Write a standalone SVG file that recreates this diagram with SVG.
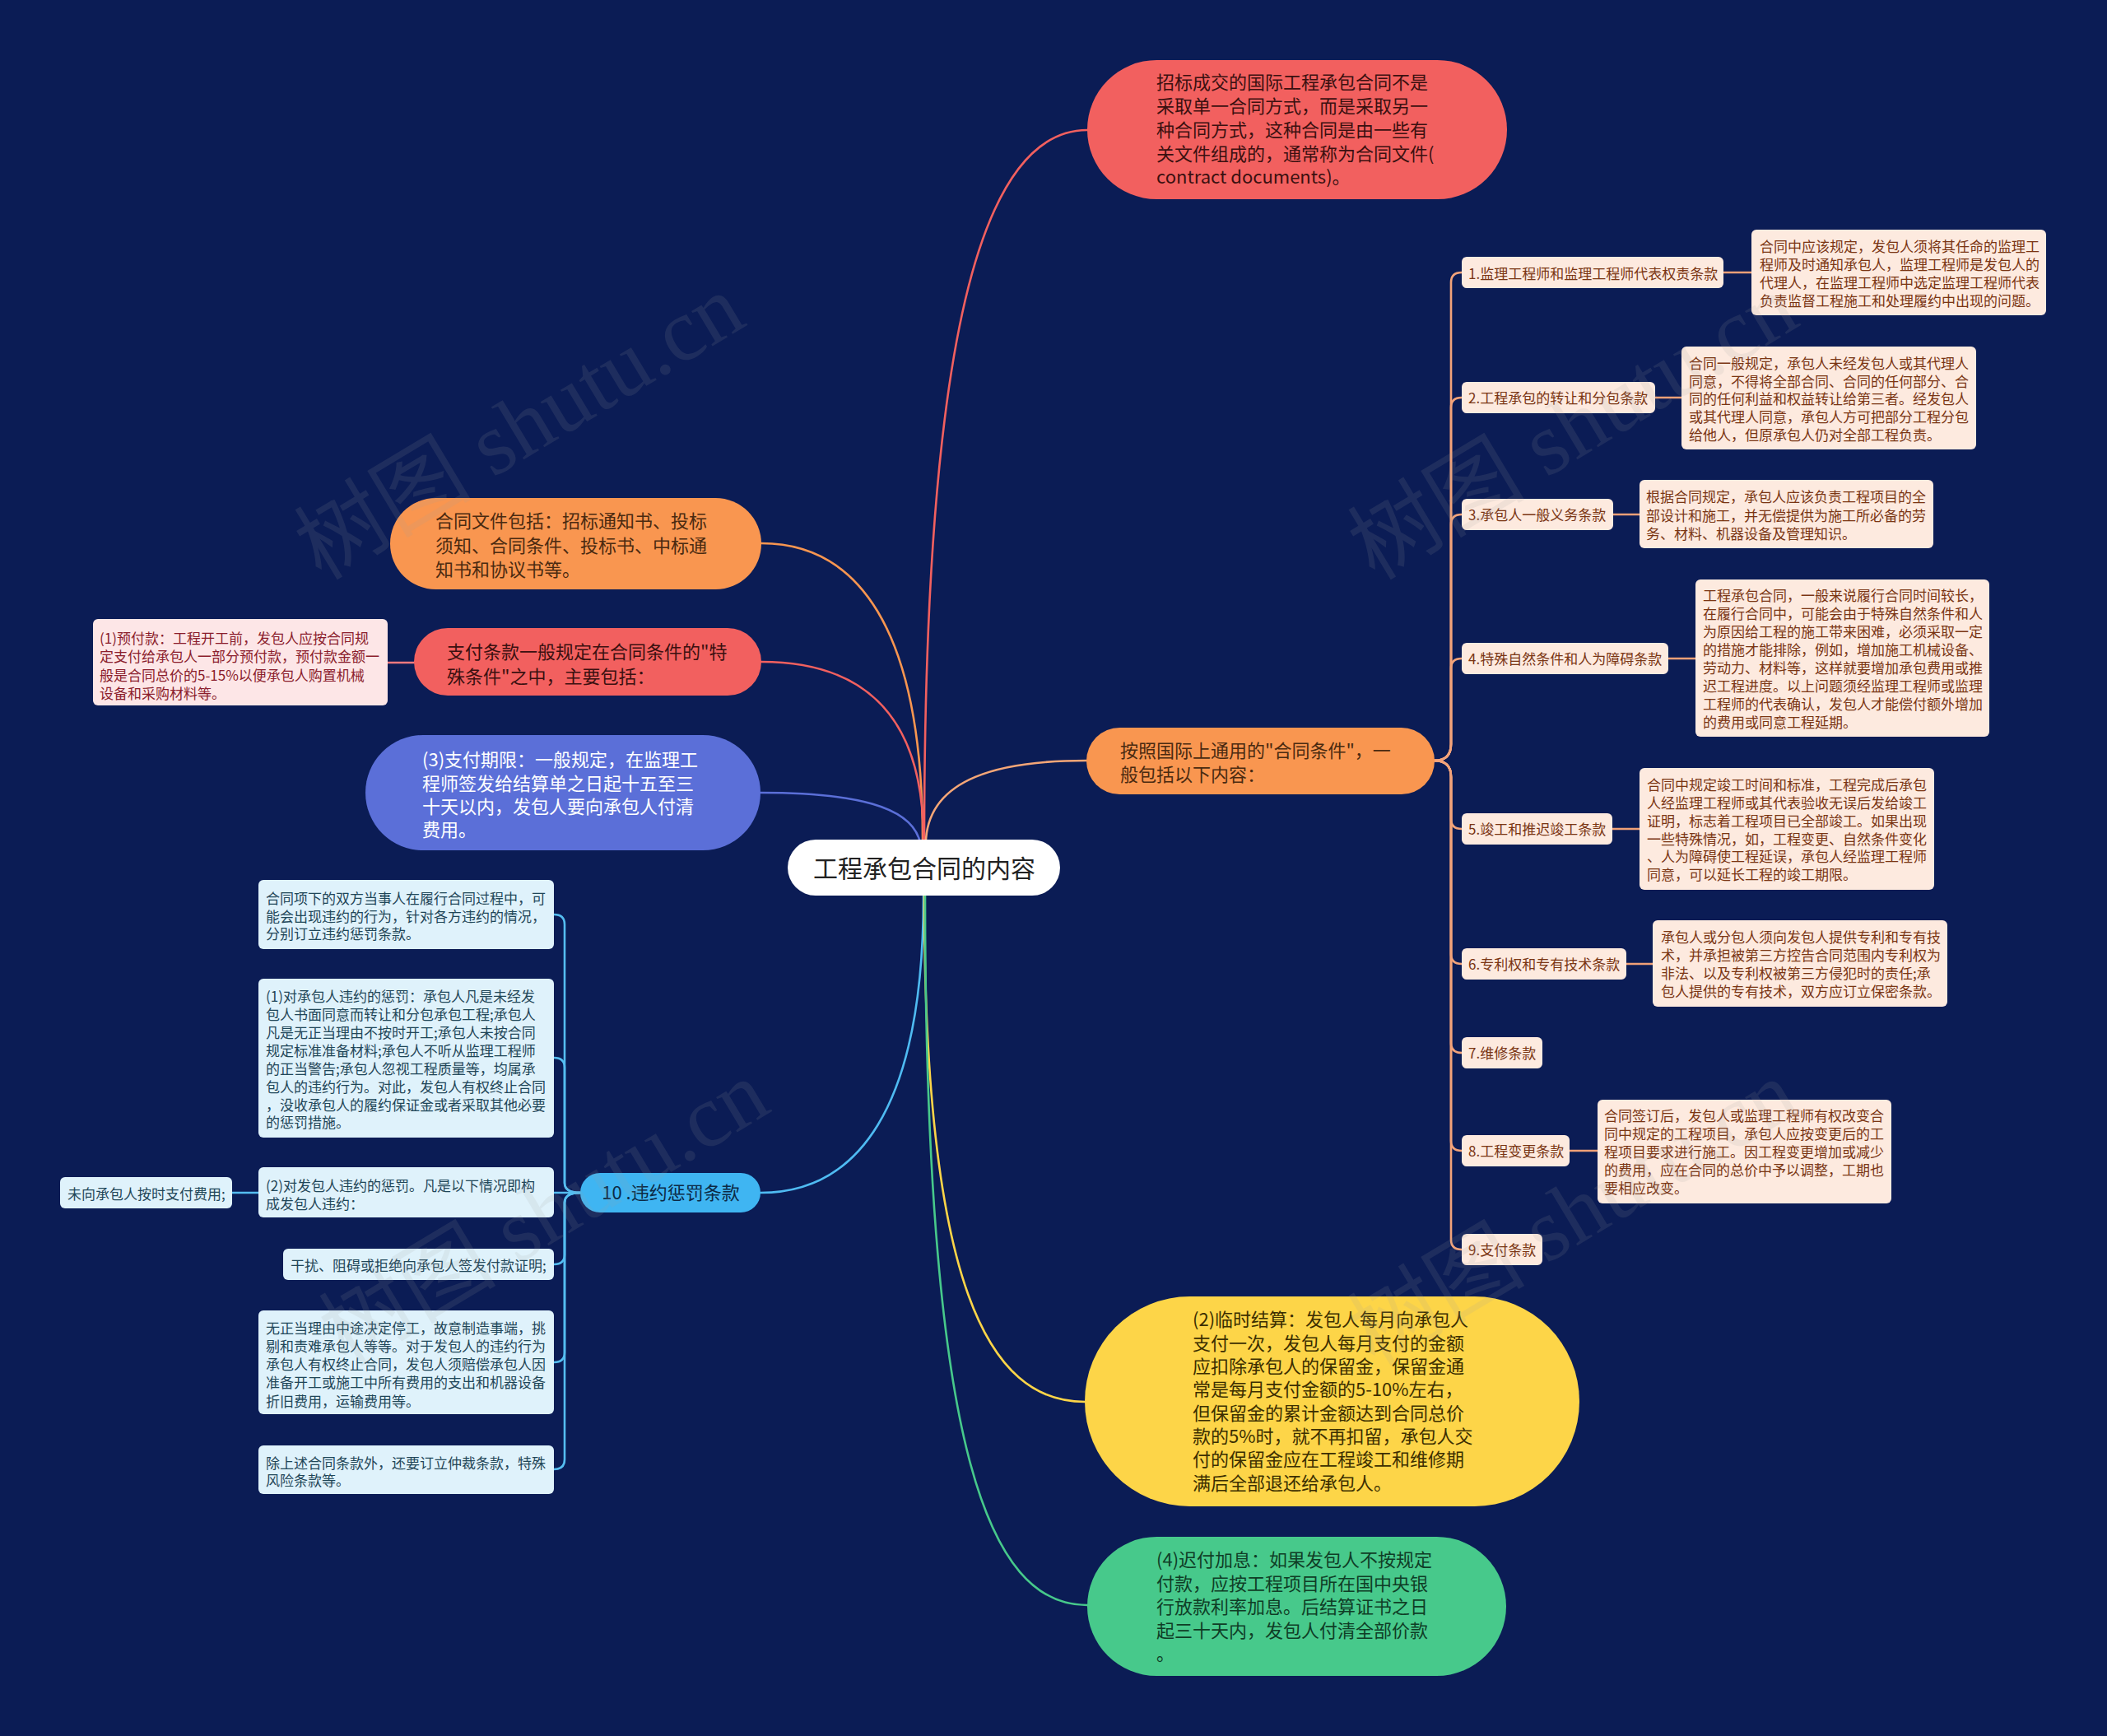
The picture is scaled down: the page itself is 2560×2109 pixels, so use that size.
<svg xmlns="http://www.w3.org/2000/svg" width="2560" height="2109" viewBox="0 0 2560 2109">
<style>
text{font-family:"Noto Sans CJK SC","Noto Sans",sans-serif}
.t22{font-size:22px}
.t17{font-size:17px}
.c{fill:none;stroke-width:2.6;stroke-linecap:round}
.lr rect{fill:#fdeadf}
.lr text{fill:#7a3513}
.lb rect{fill:#dff2fb}
.lb text{fill:#1f4658}
.wm{font-family:"Liberation Serif","Noto Sans CJK SC",serif;font-size:108px;fill:#a0a0a0;opacity:0.13}
</style>
<rect width="2560" height="2109" fill="#0b1c55"/>

<g id="connectors">
  <path class="c" stroke="#f2605f" d="M1123,1020 C1123,420 1190,158 1321,158"/>
  <path class="c" stroke="#f5a677" d="M1125,1020 C1130,945 1215,924 1320,924"/>
  <path class="c" stroke="#f99650" d="M1121,1020 C1121,760 1040,660 925,660"/>
  <path class="c" stroke="#f2605f" d="M1122,1020 C1122,860 1040,804 925,804"/>
  <path class="c" stroke="#5b6fd8" d="M1117,1020 C1105,980 1040,963 924,963"/>
  <path class="c" stroke="#4fbbf2" d="M1122,1088 C1122,1350 1040,1449 924,1449"/>
  <path class="c" stroke="#fdd548" d="M1123,1088 C1123,1560 1200,1703 1318,1703"/>
  <path class="c" stroke="#47c98b" d="M1124,1088 C1124,1760 1200,1950 1321,1950"/>
  <g>
    <path class="c" stroke="#f3a37a" d="M1743,924 Q1763,924 1763,904 V343 Q1763,331 1776,331"/>
    <path class="c" stroke="#f3a37a" d="M1743,924 Q1763,924 1763,904 V495 Q1763,483 1776,483"/>
    <path class="c" stroke="#f3a37a" d="M1743,924 Q1763,924 1763,904 V637 Q1763,625 1776,625"/>
    <path class="c" stroke="#f3a37a" d="M1743,924 Q1763,924 1763,904 V812 Q1763,800 1776,800"/>
    <path class="c" stroke="#f3a37a" d="M1743,924 Q1763,924 1763,944 V995 Q1763,1007 1776,1007"/>
    <path class="c" stroke="#f3a37a" d="M1743,924 Q1763,924 1763,944 V1159 Q1763,1171 1776,1171"/>
    <path class="c" stroke="#f3a37a" d="M1743,924 Q1763,924 1763,944 V1267 Q1763,1279 1776,1279"/>
    <path class="c" stroke="#f3a37a" d="M1743,924 Q1763,924 1763,944 V1386 Q1763,1398 1776,1398"/>
    <path class="c" stroke="#f3a37a" d="M1743,924 Q1763,924 1763,944 V1506 Q1763,1518 1776,1518"/>
  </g>
  <g>
    <path class="c" stroke="#f0a077" stroke-width="4" d="M2094,331 H2128"/>
    <path class="c" stroke="#f0a077" stroke-width="4" d="M2011,483 H2043"/>
    <path class="c" stroke="#f0a077" stroke-width="4" d="M1960,625 H1992"/>
    <path class="c" stroke="#f0a077" stroke-width="4" d="M2027,800 H2060"/>
    <path class="c" stroke="#f0a077" stroke-width="4" d="M1959,1007 H1992"/>
    <path class="c" stroke="#f0a077" stroke-width="4" d="M1976,1171 H2008"/>
    <path class="c" stroke="#f0a077" stroke-width="4" d="M1907,1398 H1941"/>
  </g>
  <path class="c" stroke="#f2797e" stroke-width="3" d="M471,805 H503"/>
  <g>
    <path class="c" stroke="#55bdf0" d="M705,1449 Q686,1449 686,1437 V1123 Q686,1111 673,1111"/>
    <path class="c" stroke="#55bdf0" d="M705,1449 Q686,1449 686,1437 V1297 Q686,1285 673,1285"/>
    <path class="c" stroke="#55bdf0" d="M705,1449 H673"/>
    <path class="c" stroke="#55bdf0" d="M705,1449 Q686,1449 686,1461 V1524 Q686,1536 673,1536"/>
    <path class="c" stroke="#55bdf0" d="M705,1449 Q686,1449 686,1461 V1643 Q686,1655 673,1655"/>
    <path class="c" stroke="#55bdf0" d="M705,1449 Q686,1449 686,1461 V1773 Q686,1785 673,1785"/>
    <path class="c" stroke="#55bdf0" stroke-width="3" d="M282,1449 H314"/>
  </g>
</g>

<g id="root">
  <rect x="957" y="1020" width="331" height="68" rx="34" fill="#ffffff"/>
  <text x="1123" y="1066" font-size="30" text-anchor="middle" fill="#222">工程承包合同的内容</text>
</g>

<g id="n-top-red">
  <rect x="1321" y="73" width="510" height="169" rx="84.5" fill="#f2605f"/>
  <text class="t22" fill="#3b1010"><tspan x="1405" y="108">招标成交的国际工程承包合同不是</tspan><tspan x="1405" y="137">采取单一合同方式，而是采取另一</tspan><tspan x="1405" y="166">种合同方式，这种合同是由一些有</tspan><tspan x="1405" y="195">关文件组成的，通常称为合同文件(</tspan><tspan x="1405" y="223">contract documents)。</tspan></text>
</g>

<g id="n-right-orange">
  <rect x="1320" y="884" width="423" height="81" rx="40.5" fill="#f99650"/>
  <text class="t22" fill="#4a2a10"><tspan x="1361" y="920">按照国际上通用的"合同条件"，一</tspan><tspan x="1361" y="949">般包括以下内容：</tspan></text>
</g>

<g id="n-left-orange">
  <rect x="474" y="605" width="451" height="111" rx="55.5" fill="#f99650"/>
  <text class="t22" fill="#4a2a10"><tspan x="529" y="641">合同文件包括：招标通知书、投标</tspan><tspan x="529" y="671">须知、合同条件、投标书、中标通</tspan><tspan x="529" y="700">知书和协议书等。</tspan></text>
</g>

<g id="n-left-red">
  <rect x="503" y="763" width="422" height="82" rx="41" fill="#f2605f"/>
  <text class="t22" fill="#3b1010"><tspan x="543" y="800">支付条款一般规定在合同条件的"特</tspan><tspan x="543" y="830">殊条件"之中，主要包括：</tspan></text>
</g>

<g id="n-pink">
  <rect x="113" y="752" width="358" height="105" rx="6" fill="#fde6e7"/>
  <text class="t17" fill="#8b1d2c"><tspan x="121" y="781.5">(1)预付款：工程开工前，发包人应按合同规</tspan><tspan x="121" y="803.5">定支付给承包人一部分预付款，预付款金额一</tspan><tspan x="121" y="826.5">般是合同总价的5-15%以便承包人购置机械</tspan><tspan x="121" y="848.5">设备和采购材料等。</tspan></text>
</g>

<g id="n-blue">
  <rect x="444" y="893" width="480" height="140" rx="70" fill="#5b6fd8"/>
  <text class="t22" fill="#ffffff"><tspan x="513" y="931">(3)支付期限：一般规定，在监理工</tspan><tspan x="513" y="960">程师签发给结算单之日起十五至三</tspan><tspan x="513" y="988">十天以内，发包人要向承包人付清</tspan><tspan x="513" y="1016">费用。</tspan></text>
</g>

<g id="n-penalty">
  <rect x="705" y="1425" width="219" height="48" rx="24" fill="#3fb5f2"/>
  <text class="t22" x="815" y="1457" text-anchor="middle" fill="#0c2a45">10 .违约惩罚条款</text>
</g>

<g id="n-yellow">
  <rect x="1318" y="1575" width="601" height="255" rx="127.5" fill="#fdd548"/>
  <text class="t22" fill="#3b2e00"><tspan x="1449" y="1611">(2)临时结算：发包人每月向承包人</tspan><tspan x="1449" y="1640">支付一次，发包人每月支付的金额</tspan><tspan x="1449" y="1668">应扣除承包人的保留金，保留金通</tspan><tspan x="1449" y="1696">常是每月支付金额的5-10%左右，</tspan><tspan x="1449" y="1725">但保留金的累计金额达到合同总价</tspan><tspan x="1449" y="1753">款的5%时，就不再扣留，承包人交</tspan><tspan x="1449" y="1781">付的保留金应在工程竣工和维修期</tspan><tspan x="1449" y="1810">满后全部退还给承包人。</tspan></text>
</g>

<g id="n-green">
  <rect x="1321" y="1867" width="509" height="169" rx="84.5" fill="#47c98b"/>
  <text class="t22" fill="#0f3d26"><tspan x="1405" y="1903">(4)迟付加息：如果发包人不按规定</tspan><tspan x="1405" y="1931.5">付款，应按工程项目所在国中央银</tspan><tspan x="1405" y="1960">行放款利率加息。后结算证书之日</tspan><tspan x="1405" y="1988.5">起三十天内，发包人付清全部价款</tspan><tspan x="1405" y="2017">。</tspan></text>
</g>

<g id="item1" class="lr"><rect x="1776" y="312" width="318" height="38" rx="6"/><text class="t17" x="1784" y="338.5">1.监理工程师和监理工程师代表权责条款</text></g>
<g id="desc1" class="lr"><rect x="2128" y="279" width="358" height="104" rx="6"/><text class="t17"><tspan x="2138" y="305.5">合同中应该规定，发包人须将其任命的监理工</tspan><tspan x="2138" y="327.5">程师及时通知承包人，监理工程师是发包人的</tspan><tspan x="2138" y="349.5">代理人，在监理工程师中选定监理工程师代表</tspan><tspan x="2138" y="371.5">负责监督工程施工和处理履约中出现的问题。</tspan></text></g>

<g id="item2" class="lr"><rect x="1776" y="464" width="235" height="38" rx="6"/><text class="t17" x="1784" y="489.5">2.工程承包的转让和分包条款</text></g>
<g id="desc2" class="lr"><rect x="2043" y="421" width="358" height="125" rx="6"/><text class="t17"><tspan x="2052" y="447.5">合同一般规定，承包人未经发包人或其代理人</tspan><tspan x="2052" y="469.5">同意，不得将全部合同、合同的任何部分、合</tspan><tspan x="2052" y="490.5">同的任何利益和权益转让给第三者。经发包人</tspan><tspan x="2052" y="512.5">或其代理人同意，承包人方可把部分工程分包</tspan><tspan x="2052" y="534.5">给他人，但原承包人仍对全部工程负责。</tspan></text></g>

<g id="item3" class="lr"><rect x="1776" y="606" width="184" height="38" rx="6"/><text class="t17" x="1784" y="631.5">3.承包人一般义务条款</text></g>
<g id="desc3" class="lr"><rect x="1992" y="583" width="357" height="83" rx="6"/><text class="t17"><tspan x="2000" y="609.5">根据合同规定，承包人应该负责工程项目的全</tspan><tspan x="2000" y="632.5">部设计和施工，并无偿提供为施工所必备的劳</tspan><tspan x="2000" y="654.5">务、材料、机器设备及管理知识。</tspan></text></g>

<g id="item4" class="lr"><rect x="1776" y="781" width="251" height="38" rx="6"/><text class="t17" x="1784" y="806.5">4.特殊自然条件和人为障碍条款</text></g>
<g id="desc4" class="lr"><rect x="2060" y="704" width="357" height="191" rx="6"/><text class="t17"><tspan x="2069" y="729.5">工程承包合同，一般来说履行合同时间较长，</tspan><tspan x="2069" y="751.5">在履行合同中，可能会由于特殊自然条件和人</tspan><tspan x="2069" y="773.5">为原因给工程的施工带来困难，必须采取一定</tspan><tspan x="2069" y="795.5">的措施才能排除，例如，增加施工机械设备、</tspan><tspan x="2069" y="817.5">劳动力、材料等，这样就要增加承包费用或推</tspan><tspan x="2069" y="839.5">迟工程进度。以上问题须经监理工程师或监理</tspan><tspan x="2069" y="861.5">工程师的代表确认，发包人才能偿付额外增加</tspan><tspan x="2069" y="883.5">的费用或同意工程延期。</tspan></text></g>

<g id="item5" class="lr"><rect x="1776" y="988" width="183" height="38" rx="6"/><text class="t17" x="1784" y="1013.5">5.竣工和推迟竣工条款</text></g>
<g id="desc5" class="lr"><rect x="1992" y="933" width="358" height="148" rx="6"/><text class="t17"><tspan x="2001" y="959.5">合同中规定竣工时间和标准，工程完成后承包</tspan><tspan x="2001" y="981.5">人经监理工程师或其代表验收无误后发给竣工</tspan><tspan x="2001" y="1003.5">证明，标志着工程项目已全部竣工。如果出现</tspan><tspan x="2001" y="1025.5">一些特殊情况，如，工程变更、自然条件变化</tspan><tspan x="2001" y="1047">、人为障碍使工程延误，承包人经监理工程师</tspan><tspan x="2001" y="1068.5">同意，可以延长工程的竣工期限。</tspan></text></g>

<g id="item6" class="lr"><rect x="1776" y="1152" width="200" height="38" rx="6"/><text class="t17" x="1784" y="1177.5">6.专利权和专有技术条款</text></g>
<g id="desc6" class="lr"><rect x="2008" y="1118" width="358" height="105" rx="6"/><text class="t17"><tspan x="2018" y="1144.5">承包人或分包人须向发包人提供专利和专有技</tspan><tspan x="2018" y="1166.5">术，并承担被第三方控告合同范围内专利权为</tspan><tspan x="2018" y="1189">非法、以及专利权被第三方侵犯时的责任;承</tspan><tspan x="2018" y="1210.5">包人提供的专有技术，双方应订立保密条款。</tspan></text></g>

<g id="item7" class="lr"><rect x="1776" y="1260" width="98" height="38" rx="6"/><text class="t17" x="1784" y="1285.5">7.维修条款</text></g>

<g id="item8" class="lr"><rect x="1776" y="1379" width="131" height="38" rx="6"/><text class="t17" x="1784" y="1404.5">8.工程变更条款</text></g>
<g id="desc8" class="lr"><rect x="1941" y="1336" width="357" height="126" rx="6"/><text class="t17"><tspan x="1949" y="1361.5">合同签订后，发包人或监理工程师有权改变合</tspan><tspan x="1949" y="1383.5">同中规定的工程项目，承包人应按变更后的工</tspan><tspan x="1949" y="1405.5">程项目要求进行施工。因工程变更增加或减少</tspan><tspan x="1949" y="1427.5">的费用，应在合同的总价中予以调整，工期也</tspan><tspan x="1949" y="1449.5">要相应改变。</tspan></text></g>

<g id="item9" class="lr"><rect x="1776" y="1499" width="98" height="38" rx="6"/><text class="t17" x="1784" y="1524.5">9.支付条款</text></g>

<g id="pA" class="lb"><rect x="314" y="1069" width="359" height="84" rx="6"/><text class="t17"><tspan x="323" y="1097.5">合同项下的双方当事人在履行合同过程中，可</tspan><tspan x="323" y="1119.5">能会出现违约的行为，针对各方违约的情况，</tspan><tspan x="323" y="1140.5">分别订立违约惩罚条款。</tspan></text></g>

<g id="pB" class="lb"><rect x="314" y="1189" width="359" height="193" rx="6"/><text class="t17"><tspan x="323" y="1216.5">(1)对承包人违约的惩罚：承包人凡是未经发</tspan><tspan x="323" y="1238.5">包人书面同意而转让和分包承包工程;承包人</tspan><tspan x="323" y="1260.5">凡是无正当理由不按时开工;承包人未按合同</tspan><tspan x="323" y="1282.5">规定标准准备材料;承包人不听从监理工程师</tspan><tspan x="323" y="1304.5">的正当警告;承包人忽视工程质量等，均属承</tspan><tspan x="323" y="1326.5">包人的违约行为。对此，发包人有权终止合同</tspan><tspan x="323" y="1348.5">，没收承包人的履约保证金或者采取其他必要</tspan><tspan x="323" y="1369.5">的惩罚措施。</tspan></text></g>

<g id="pC" class="lb"><rect x="314" y="1418" width="359" height="61" rx="6"/><text class="t17"><tspan x="323" y="1446.5">(2)对发包人违约的惩罚。凡是以下情况即构</tspan><tspan x="323" y="1468.5">成发包人违约：</tspan></text></g>

<g id="pC1" class="lb"><rect x="73" y="1430" width="209" height="38" rx="6"/><text class="t17" x="82" y="1456.5">未向承包人按时支付费用;</text></g>

<g id="pD" class="lb"><rect x="344" y="1517" width="329" height="38" rx="6"/><text class="t17" x="353" y="1543.5">干扰、阻碍或拒绝向承包人签发付款证明;</text></g>

<g id="pE" class="lb"><rect x="314" y="1592" width="359" height="126" rx="6"/><text class="t17"><tspan x="323" y="1619.5">无正当理由中途决定停工，故意制造事端，挑</tspan><tspan x="323" y="1641.5">剔和责难承包人等等。对于发包人的违约行为</tspan><tspan x="323" y="1663.5">承包人有权终止合同，发包人须赔偿承包人因</tspan><tspan x="323" y="1685.5">准备开工或施工中所有费用的支出和机器设备</tspan><tspan x="323" y="1708.5">折旧费用，运输费用等。</tspan></text></g>

<g id="pF" class="lb"><rect x="314" y="1756" width="359" height="59" rx="6"/><text class="t17"><tspan x="323" y="1783.5">除上述合同条款外，还要订立仲裁条款，特殊</tspan><tspan x="323" y="1804.5">风险条款等。</tspan></text></g>

<g id="watermarks">
  <text class="wm" text-anchor="middle" transform="translate(650,550) rotate(-31)">树图 shutu.cn</text>
  <text class="wm" text-anchor="middle" transform="translate(1930,550) rotate(-31)">树图 shutu.cn</text>
  <text class="wm" text-anchor="middle" transform="translate(680,1505) rotate(-31)">树图 shutu.cn</text>
  <text class="wm" text-anchor="middle" transform="translate(1930,1505) rotate(-31)">树图 shutu.cn</text>
</g>
</svg>
